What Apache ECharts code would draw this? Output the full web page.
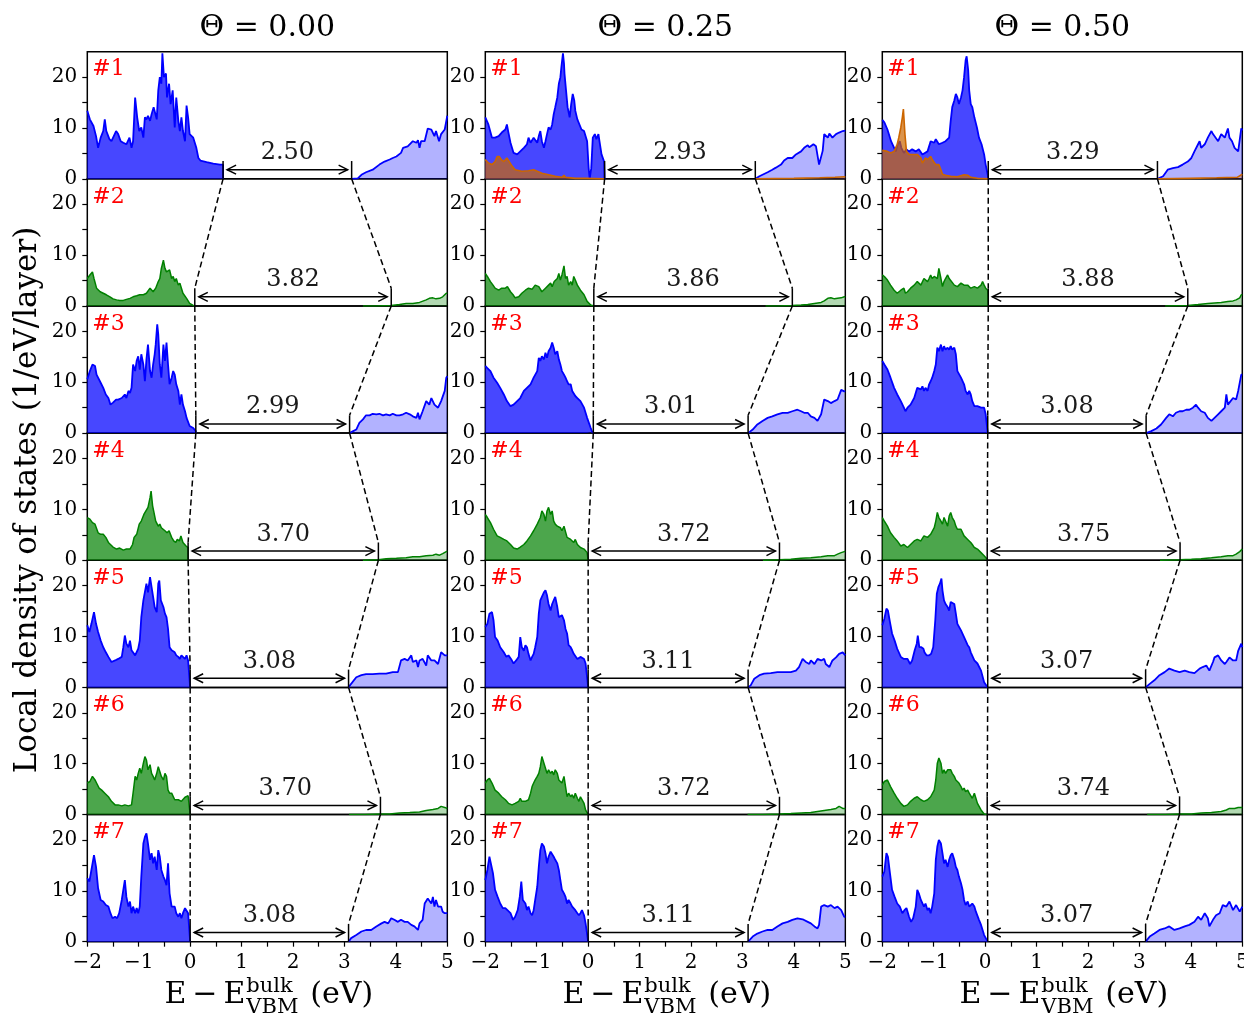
<!DOCTYPE html>
<html>
<head>
<meta charset="utf-8">
<title>Layer-resolved density of states</title>
<script src="https://cdn.jsdelivr.net/npm/echarts@6.0.0/dist/echarts.min.js"></script>
<style>
html,body{margin:0;padding:0;background:#fff}
#chart{width:1244px;height:1013px}
</style>
</head>
<body>
<div id="chart"></div>
<script>
// ---- labels and ticks ----
const thetaLabels = ['0.00', '0.25', '0.50'];
const layerLabels = ['#1', '#2', '#3', '#4', '#5', '#6', '#7'];
const xTicks = [-2, -1.5, -1, -0.5, 0, 0.5, 1, 1.5, 2, 2.5, 3, 3.5, 4, 4.5, 5];
const xTickLabels = [-2, -1, 0, 1, 2, 3, 4, 5];
const yTicks = [0, 5, 10, 15, 20];
const yTickLabels = [0, 10, 20];

// ---- valence band maximum per layer (eV) and labelled gap (eV) ----
const vbm00 = [0.64, 0.09, 0.11, -0.04, 0.00, 0.00, 0.00];
const gap00 = [2.50, 3.82, 2.99, 3.70, 3.08, 3.70, 3.08];
const vbm25 = [0.32, 0.11, 0.10, 0.00, 0.00, 0.00, 0.00];
const gap25 = [2.93, 3.86, 3.01, 3.72, 3.11, 3.72, 3.11];
const vbm50 = [0.06, 0.06, 0.05, 0.04, 0.05, 0.04, 0.05];
const gap50 = [3.29, 3.88, 3.08, 3.75, 3.07, 3.74, 3.07];

// ---- DOS curves, [energy (eV), states (1/eV/layer)] ----
// Theta = 0.00
const vb00_1 = [[-2.00,13.4],[-1.95,11.7],[-1.88,10.4],[-1.83,8.4],[-1.79,6.1],[-1.74,8.1],[-1.69,9.4],[-1.66,11.7],[-1.63,9.4],[-1.57,7.8],[-1.53,7.4],[-1.50,7.4],[-1.44,9.4],[-1.40,8.8],[-1.35,7.4],[-1.30,7.1],[-1.24,6.8],[-1.18,8.1],[-1.14,6.1],[-1.11,7.4],[-1.07,16.0],[-1.03,12.1],[-0.99,9.4],[-0.95,10.1],[-0.91,8.1],[-0.88,12.1],[-0.85,11.7],[-0.82,12.4],[-0.78,11.4],[-0.75,12.7],[-0.71,14.1],[-0.65,11.7],[-0.62,17.4],[-0.59,20.0],[-0.56,18.7],[-0.54,24.7],[-0.51,20.0],[-0.47,20.7],[-0.45,16.0],[-0.41,18.7],[-0.38,14.7],[-0.34,17.4],[-0.30,10.1],[-0.27,16.0],[-0.23,11.4],[-0.20,9.4],[-0.17,12.1],[-0.14,9.4],[-0.10,7.4],[-0.07,14.4],[-0.04,12.1],[-0.01,8.8],[0.06,8.1],[0.12,6.1],[0.16,4.1],[0.20,3.6],[0.32,3.3],[0.45,3.0],[0.58,2.8],[0.64,2.8]];
const cb00_1 = [[3.14,0],[3.26,0.1],[3.33,0.8],[3.42,1.3],[3.55,1.8],[3.68,2.8],[3.78,3.4],[3.88,3.8],[3.94,4.1],[4.01,4.4],[4.10,5.1],[4.14,6.1],[4.23,6.4],[4.33,7.4],[4.40,7.1],[4.43,7.6],[4.46,6.1],[4.49,7.4],[4.56,7.4],[4.62,9.9],[4.69,9.7],[4.75,8.4],[4.78,9.4],[4.84,7.4],[4.88,8.8],[4.95,9.7],[5.00,12.4]];
const vb00_2 = [[-2.00,5.4],[-1.95,6.1],[-1.90,6.7],[-1.87,5.4],[-1.82,3.5],[-1.75,2.8],[-1.69,2.5],[-1.63,2.2],[-1.56,1.8],[-1.50,1.4],[-1.43,1.2],[-1.37,1.1],[-1.30,1.1],[-1.24,1.3],[-1.17,1.5],[-1.11,1.8],[-1.04,2.0],[-0.98,2.2],[-0.91,2.2],[-0.85,2.5],[-0.78,3.5],[-0.75,3.8],[-0.72,2.8],[-0.67,3.5],[-0.62,4.8],[-0.59,5.4],[-0.56,7.4],[-0.52,9.0],[-0.49,7.4],[-0.46,6.7],[-0.43,6.4],[-0.40,7.1],[-0.36,5.4],[-0.33,5.8],[-0.30,4.8],[-0.27,5.4],[-0.23,4.1],[-0.20,4.5],[-0.17,3.5],[-0.14,2.5],[-0.07,1.5],[-0.01,0.5],[0.06,0.1],[0.09,0]];
const cb00_2 = [[3.36,0],[3.60,0.02],[3.91,0.1],[4.07,0.3],[4.20,0.5],[4.33,0.5],[4.46,0.7],[4.59,1.2],[4.65,1.5],[4.72,1.6],[4.78,1.4],[4.85,1.5],[4.91,1.8],[4.98,2.5],[5.00,2.5]];
const vb00_3 = [[-2.00,10.6],[-1.95,12.2],[-1.90,13.5],[-1.85,13.2],[-1.82,11.5],[-1.79,10.9],[-1.74,9.9],[-1.69,8.9],[-1.64,7.6],[-1.59,6.9],[-1.55,5.6],[-1.50,6.0],[-1.44,6.6],[-1.40,6.6],[-1.33,6.9],[-1.27,7.6],[-1.24,6.9],[-1.20,8.3],[-1.17,7.9],[-1.14,8.9],[-1.11,13.5],[-1.07,12.2],[-1.04,14.2],[-1.01,15.1],[-0.98,12.5],[-0.95,15.5],[-0.91,13.5],[-0.88,10.2],[-0.85,14.5],[-0.82,17.4],[-0.78,12.2],[-0.75,10.9],[-0.72,13.5],[-0.69,15.5],[-0.67,17.4],[-0.64,21.4],[-0.62,19.4],[-0.59,13.5],[-0.56,10.9],[-0.52,17.4],[-0.49,14.2],[-0.46,17.8],[-0.43,13.5],[-0.40,9.6],[-0.36,10.9],[-0.33,12.2],[-0.30,11.5],[-0.27,9.6],[-0.23,8.3],[-0.20,5.6],[-0.17,7.6],[-0.14,5.6],[-0.10,4.3],[-0.07,3.0],[-0.01,1.4],[0.06,1.0],[0.11,0.4]];
const cb00_3 = [[3.10,0],[3.17,0.4],[3.23,0.7],[3.29,2.0],[3.36,2.7],[3.42,3.5],[3.49,3.5],[3.55,3.8],[3.62,3.7],[3.68,3.8],[3.75,3.5],[3.81,3.7],[3.88,3.5],[3.94,3.8],[4.01,3.5],[4.07,3.5],[4.14,3.7],[4.20,4.0],[4.27,3.7],[4.33,3.3],[4.40,3.0],[4.43,4.0],[4.46,2.7],[4.52,4.3],[4.59,6.3],[4.65,5.6],[4.69,6.9],[4.75,5.6],[4.82,5.0],[4.88,6.3],[4.95,8.3],[4.98,10.9],[5.00,11.2]];
const vb00_4 = [[-2.00,8.4],[-1.95,8.1],[-1.90,7.4],[-1.85,7.1],[-1.79,5.4],[-1.74,5.1],[-1.69,5.1],[-1.64,4.5],[-1.59,3.5],[-1.55,3.1],[-1.50,2.6],[-1.43,2.2],[-1.37,2.4],[-1.30,2.0],[-1.24,2.2],[-1.17,2.2],[-1.12,3.1],[-1.09,4.5],[-1.04,5.1],[-0.99,7.1],[-0.95,7.7],[-0.90,9.0],[-0.86,9.7],[-0.82,10.4],[-0.78,12.3],[-0.76,13.6],[-0.73,10.7],[-0.71,9.7],[-0.67,7.7],[-0.62,6.7],[-0.59,7.1],[-0.56,6.4],[-0.49,5.8],[-0.45,5.4],[-0.41,5.8],[-0.36,4.5],[-0.32,3.8],[-0.28,3.5],[-0.25,4.1],[-0.21,3.8],[-0.18,4.8],[-0.14,3.5],[-0.08,2.8],[-0.04,2.5]];
const cb00_4 = [[3.36,0],[3.66,0.1],[3.81,0.3],[4.01,0.4],[4.20,0.5],[4.33,0.7],[4.46,0.7],[4.59,0.9],[4.72,1.0],[4.78,1.2],[4.85,1.0],[4.91,1.3],[4.98,1.7],[5.00,1.7]];
const vb00_5 = [[-2.00,12.2],[-1.96,10.9],[-1.92,12.5],[-1.87,14.8],[-1.83,12.5],[-1.79,10.9],[-1.74,9.2],[-1.69,7.9],[-1.64,6.9],[-1.59,6.0],[-1.53,5.0],[-1.46,5.3],[-1.40,5.6],[-1.33,6.0],[-1.30,7.9],[-1.27,10.2],[-1.24,8.6],[-1.20,7.9],[-1.17,9.2],[-1.14,7.3],[-1.11,7.6],[-1.07,6.3],[-1.04,6.3],[-1.01,7.6],[-0.98,9.2],[-0.95,13.8],[-0.91,17.1],[-0.88,17.4],[-0.85,20.4],[-0.82,18.7],[-0.78,21.7],[-0.75,19.7],[-0.72,17.8],[-0.69,15.8],[-0.65,14.8],[-0.62,20.4],[-0.60,21.0],[-0.57,17.1],[-0.52,15.8],[-0.49,14.5],[-0.46,13.8],[-0.43,11.5],[-0.40,7.9],[-0.36,7.3],[-0.33,7.6],[-0.30,6.9],[-0.27,6.3],[-0.23,6.0],[-0.20,5.6],[-0.17,6.3],[-0.14,6.0],[-0.10,5.6],[-0.07,6.3],[-0.04,5.3]];
const cb00_5 = [[3.08,0],[3.13,0.7],[3.23,2.0],[3.33,2.4],[3.42,2.6],[3.55,2.6],[3.68,2.7],[3.81,2.7],[3.94,3.0],[4.04,3.0],[4.10,5.3],[4.17,5.6],[4.23,5.3],[4.30,6.3],[4.33,5.0],[4.40,5.3],[4.43,4.0],[4.46,5.3],[4.52,5.6],[4.59,4.3],[4.62,6.3],[4.65,6.6],[4.69,5.3],[4.75,5.3],[4.82,4.6],[4.88,6.9],[4.91,7.2],[4.95,6.3],[5.00,6.3]];
const vb00_6 = [[-2.00,6.2],[-1.95,6.5],[-1.90,7.5],[-1.85,6.8],[-1.82,6.2],[-1.77,5.2],[-1.72,4.8],[-1.66,4.2],[-1.59,3.5],[-1.53,2.6],[-1.46,1.9],[-1.40,1.9],[-1.33,1.7],[-1.27,1.9],[-1.20,1.7],[-1.14,1.9],[-1.11,4.2],[-1.07,7.5],[-1.04,6.8],[-1.01,8.1],[-0.98,9.1],[-0.95,8.1],[-0.91,10.1],[-0.88,11.4],[-0.85,10.7],[-0.82,8.8],[-0.78,9.8],[-0.75,8.1],[-0.72,7.5],[-0.69,6.8],[-0.65,8.1],[-0.62,9.4],[-0.59,9.1],[-0.56,7.5],[-0.52,6.8],[-0.49,8.1],[-0.46,7.5],[-0.43,4.8],[-0.40,4.2],[-0.36,4.2],[-0.33,3.9],[-0.30,2.9],[-0.27,2.6],[-0.23,2.9],[-0.20,2.6],[-0.17,2.6],[-0.14,2.9],[-0.10,3.4],[-0.07,3.5],[-0.04,3.7]];
const cb00_6 = [[3.09,0],[3.40,0.02],[3.70,0.1],[3.88,0.1],[4.07,0.3],[4.27,0.4],[4.46,0.5],[4.59,0.8],[4.72,1.0],[4.82,1.2],[4.88,1.6],[4.95,1.4],[5.00,1.2]];
const vb00_7 = [[-2.00,12.5],[-1.96,11.8],[-1.92,14.1],[-1.87,17.0],[-1.83,14.7],[-1.79,10.5],[-1.74,8.2],[-1.69,7.9],[-1.64,7.2],[-1.59,6.9],[-1.55,5.6],[-1.51,4.6],[-1.46,4.9],[-1.42,4.6],[-1.38,5.6],[-1.33,8.2],[-1.30,10.2],[-1.27,12.1],[-1.24,8.8],[-1.20,6.9],[-1.17,7.9],[-1.14,5.6],[-1.11,6.9],[-1.07,5.6],[-1.04,6.6],[-1.01,5.6],[-0.98,6.9],[-0.95,12.8],[-0.91,19.3],[-0.88,20.6],[-0.85,21.3],[-0.82,19.3],[-0.78,16.1],[-0.75,17.4],[-0.72,15.4],[-0.69,16.7],[-0.65,14.1],[-0.62,18.0],[-0.59,16.7],[-0.56,14.1],[-0.52,12.8],[-0.49,12.1],[-0.46,11.1],[-0.43,15.4],[-0.40,9.5],[-0.36,6.9],[-0.33,6.6],[-0.30,6.9],[-0.27,5.6],[-0.23,4.9],[-0.20,5.6],[-0.17,4.6],[-0.14,5.6],[-0.10,6.6],[-0.07,6.9],[-0.04,5.6]];
const cb00_7 = [[3.08,0],[3.13,0.7],[3.23,1.3],[3.33,2.0],[3.42,2.3],[3.52,2.3],[3.62,3.0],[3.72,3.6],[3.78,3.9],[3.85,3.6],[3.91,4.6],[3.97,4.3],[4.04,3.9],[4.10,4.3],[4.17,3.9],[4.23,3.9],[4.30,3.3],[4.36,3.0],[4.43,2.3],[4.46,3.6],[4.52,4.3],[4.56,7.5],[4.62,8.5],[4.69,7.5],[4.72,8.8],[4.75,6.9],[4.78,8.2],[4.82,6.9],[4.88,6.9],[4.91,5.9],[4.95,5.6],[5.00,5.6]];

// Theta = 0.25
const vb25_1 = [[-2.00,12.1],[-1.94,10.7],[-1.87,8.1],[-1.81,8.1],[-1.74,8.4],[-1.68,9.1],[-1.61,9.7],[-1.58,10.7],[-1.55,9.1],[-1.51,7.1],[-1.45,5.1],[-1.38,4.8],[-1.32,5.4],[-1.25,6.1],[-1.19,6.8],[-1.16,8.1],[-1.12,7.1],[-1.09,6.8],[-1.06,8.1],[-1.03,8.4],[-0.99,7.1],[-0.96,8.4],[-0.93,9.4],[-0.90,7.4],[-0.86,6.1],[-0.83,7.4],[-0.80,8.8],[-0.77,10.1],[-0.73,9.7],[-0.70,10.7],[-0.67,12.7],[-0.64,14.1],[-0.60,16.0],[-0.57,18.7],[-0.54,20.0],[-0.52,22.0],[-0.49,24.7],[-0.47,22.7],[-0.46,20.7],[-0.43,17.4],[-0.40,14.1],[-0.36,12.1],[-0.33,14.7],[-0.30,16.7],[-0.27,15.4],[-0.25,13.4],[-0.21,11.7],[-0.18,11.4],[-0.13,9.7],[-0.08,9.4],[-0.05,9.1],[-0.02,7.4],[0.01,2.1],[0.03,0],[0.06,2.1],[0.09,8.1],[0.13,8.8],[0.16,7.8],[0.20,8.8],[0.22,7.4],[0.26,4.8],[0.31,3.4]];
const cb25_1 = [[3.25,0],[3.33,0.5],[3.39,0.8],[3.49,1.3],[3.58,1.8],[3.65,2.2],[3.75,2.8],[3.81,3.6],[3.88,4.1],[3.97,4.1],[4.04,4.8],[4.14,5.4],[4.20,6.1],[4.27,6.6],[4.30,6.2],[4.33,6.1],[4.38,6.8],[4.43,6.4],[4.49,2.8],[4.56,5.5],[4.59,8.8],[4.66,8.1],[4.69,8.9],[4.75,8.1],[4.82,8.8],[4.88,9.1],[4.95,9.4],[5.00,9.5]];
const vb25_2 = [[-2.00,6.4],[-1.96,5.8],[-1.90,4.8],[-1.85,4.1],[-1.81,3.5],[-1.74,3.1],[-1.68,3.5],[-1.61,3.5],[-1.57,3.8],[-1.51,2.8],[-1.46,2.2],[-1.42,1.6],[-1.35,1.8],[-1.29,2.5],[-1.22,3.1],[-1.16,3.5],[-1.09,3.3],[-1.03,4.1],[-0.96,3.8],[-0.93,3.5],[-0.90,2.8],[-0.83,3.5],[-0.77,4.1],[-0.73,4.5],[-0.70,3.8],[-0.66,4.8],[-0.60,5.4],[-0.57,6.4],[-0.54,5.1],[-0.51,6.1],[-0.47,7.9],[-0.44,5.4],[-0.41,5.8],[-0.38,4.1],[-0.34,4.8],[-0.31,4.1],[-0.28,5.8],[-0.25,5.1],[-0.21,4.1],[-0.15,3.1],[-0.08,2.2],[-0.02,0.9],[0.05,0.2],[0.11,0]];
const cb25_2 = [[3.45,0],[3.70,0.02],[3.97,0.1],[4.14,0.2],[4.27,0.3],[4.40,0.5],[4.53,0.7],[4.59,1.0],[4.66,1.5],[4.72,1.6],[4.79,1.4],[4.85,1.5],[4.92,1.6],[4.98,1.8],[5.00,1.8]];
const vb25_3 = [[-2.00,13.2],[-1.96,12.8],[-1.90,12.2],[-1.84,10.9],[-1.77,9.9],[-1.71,8.9],[-1.64,7.6],[-1.58,6.3],[-1.51,5.3],[-1.45,5.6],[-1.38,6.3],[-1.32,6.9],[-1.25,8.3],[-1.19,8.9],[-1.12,9.6],[-1.06,10.9],[-0.99,12.2],[-0.96,14.8],[-0.93,14.2],[-0.90,15.1],[-0.86,14.5],[-0.83,15.8],[-0.80,14.8],[-0.77,16.1],[-0.73,16.8],[-0.70,17.8],[-0.67,16.8],[-0.64,15.5],[-0.60,16.1],[-0.57,14.5],[-0.54,13.5],[-0.51,12.2],[-0.47,11.5],[-0.44,10.9],[-0.41,10.2],[-0.38,9.6],[-0.34,9.6],[-0.31,8.3],[-0.28,8.3],[-0.25,7.3],[-0.21,6.9],[-0.15,6.3],[-0.08,5.0],[-0.02,3.0],[0.05,1.0],[0.08,0.2]];
const cb25_3 = [[3.11,0],[3.20,0.7],[3.29,1.7],[3.39,2.4],[3.49,3.0],[3.58,3.3],[3.68,3.7],[3.78,4.0],[3.88,4.0],[3.97,4.3],[4.07,4.6],[4.14,4.3],[4.20,4.0],[4.27,4.0],[4.33,3.3],[4.40,3.0],[4.46,2.4],[4.53,3.7],[4.59,6.6],[4.66,6.3],[4.72,5.9],[4.79,6.3],[4.85,6.6],[4.92,8.5],[4.98,8.2],[5.00,8.2]];
const vb25_4 = [[-2.00,9.0],[-1.96,8.4],[-1.90,7.4],[-1.84,6.1],[-1.77,4.8],[-1.71,4.5],[-1.64,4.1],[-1.58,3.8],[-1.51,3.1],[-1.45,2.4],[-1.38,2.2],[-1.32,2.6],[-1.25,3.1],[-1.19,3.8],[-1.12,4.8],[-1.06,5.8],[-0.99,7.1],[-0.93,8.4],[-0.90,9.7],[-0.86,9.0],[-0.83,7.7],[-0.80,9.7],[-0.77,10.4],[-0.73,9.0],[-0.70,9.7],[-0.67,7.7],[-0.64,7.1],[-0.60,6.7],[-0.54,6.4],[-0.51,5.8],[-0.47,6.7],[-0.44,6.4],[-0.41,4.5],[-0.34,4.1],[-0.28,3.5],[-0.25,4.1],[-0.21,3.1],[-0.15,2.5],[-0.08,2.2],[-0.02,1.5]];
const cb25_4 = [[3.40,0],[3.72,0.1],[3.94,0.2],[4.14,0.4],[4.33,0.5],[4.53,0.7],[4.66,0.9],[4.79,0.9],[4.85,1.2],[4.92,1.5],[4.98,1.7],[5.00,1.7]];
const vb25_5 = [[-2.00,11.9],[-1.96,12.5],[-1.92,14.5],[-1.87,14.8],[-1.84,13.2],[-1.81,9.9],[-1.76,9.2],[-1.71,7.9],[-1.64,6.9],[-1.59,6.0],[-1.55,6.3],[-1.50,5.6],[-1.45,4.7],[-1.40,5.3],[-1.35,6.0],[-1.32,9.9],[-1.29,7.9],[-1.25,7.2],[-1.22,8.3],[-1.19,7.9],[-1.16,6.6],[-1.12,5.3],[-1.09,6.0],[-1.06,6.6],[-1.03,7.9],[-0.99,9.9],[-0.96,14.5],[-0.93,17.1],[-0.90,17.8],[-0.86,18.7],[-0.83,19.1],[-0.80,18.1],[-0.77,16.4],[-0.73,15.1],[-0.70,16.4],[-0.67,17.1],[-0.64,17.8],[-0.60,15.8],[-0.57,13.8],[-0.54,13.5],[-0.51,14.2],[-0.47,13.2],[-0.44,11.5],[-0.41,10.6],[-0.38,8.3],[-0.34,7.9],[-0.31,7.3],[-0.28,6.6],[-0.25,6.3],[-0.21,5.6],[-0.18,5.3],[-0.15,6.0],[-0.12,6.3],[-0.08,5.6],[-0.05,4.7]];
const cb25_5 = [[3.11,0],[3.16,0.4],[3.23,1.7],[3.33,2.4],[3.42,2.7],[3.55,2.8],[3.68,3.0],[3.81,3.0],[3.94,3.0],[4.04,3.3],[4.10,4.0],[4.17,5.6],[4.23,5.0],[4.30,4.6],[4.33,5.3],[4.40,4.6],[4.46,5.6],[4.53,5.3],[4.59,5.6],[4.62,4.6],[4.69,4.0],[4.75,5.3],[4.82,5.9],[4.88,6.6],[4.95,6.9],[5.00,6.3]];
const vb25_6 = [[-2.00,6.2],[-1.96,6.8],[-1.92,7.1],[-1.87,6.2],[-1.81,4.8],[-1.74,4.2],[-1.68,3.5],[-1.61,2.9],[-1.55,2.2],[-1.48,1.9],[-1.42,2.2],[-1.35,2.6],[-1.32,3.2],[-1.29,2.6],[-1.22,2.6],[-1.16,2.9],[-1.12,4.2],[-1.09,5.5],[-1.06,6.2],[-1.03,6.8],[-0.99,7.5],[-0.96,8.1],[-0.93,9.4],[-0.90,11.4],[-0.86,10.1],[-0.83,9.1],[-0.80,8.1],[-0.77,8.8],[-0.73,8.1],[-0.70,8.5],[-0.67,7.8],[-0.64,8.8],[-0.60,8.1],[-0.57,6.8],[-0.54,6.5],[-0.51,6.2],[-0.47,7.5],[-0.44,5.5],[-0.41,3.5],[-0.38,4.2],[-0.34,3.5],[-0.31,3.9],[-0.28,3.2],[-0.25,4.2],[-0.21,3.2],[-0.18,2.6],[-0.15,3.5],[-0.12,3.2],[-0.08,2.2],[-0.05,0.9]];
const cb25_6 = [[3.10,0],[3.40,0.02],[3.72,0.1],[3.94,0.2],[4.14,0.3],[4.33,0.4],[4.46,0.6],[4.59,0.8],[4.72,1.0],[4.82,1.2],[4.88,1.6],[4.95,1.2],[5.00,1.2]];
const vb25_7 = [[-2.00,12.1],[-1.96,14.1],[-1.92,16.7],[-1.89,16.4],[-1.85,13.4],[-1.81,10.2],[-1.76,8.8],[-1.71,7.5],[-1.66,6.6],[-1.61,6.6],[-1.57,6.2],[-1.51,5.6],[-1.46,4.3],[-1.42,4.9],[-1.37,6.2],[-1.33,8.8],[-1.30,11.8],[-1.27,8.2],[-1.22,7.5],[-1.19,6.2],[-1.16,6.9],[-1.12,5.6],[-1.09,5.2],[-1.06,6.2],[-1.03,8.2],[-0.99,10.8],[-0.96,14.7],[-0.93,18.0],[-0.90,19.3],[-0.86,18.7],[-0.83,17.4],[-0.80,15.4],[-0.77,16.7],[-0.73,17.7],[-0.70,17.4],[-0.67,16.7],[-0.64,16.1],[-0.60,15.4],[-0.57,14.1],[-0.54,12.1],[-0.51,10.2],[-0.47,9.5],[-0.44,8.8],[-0.41,7.5],[-0.38,8.2],[-0.34,7.5],[-0.31,6.9],[-0.28,6.6],[-0.25,6.2],[-0.21,5.6],[-0.18,5.2],[-0.15,5.6],[-0.12,6.2],[-0.08,5.2],[-0.05,3.6]];
const cb25_7 = [[3.11,0],[3.20,1.0],[3.29,1.6],[3.39,2.0],[3.49,2.3],[3.58,2.3],[3.68,3.0],[3.78,3.6],[3.88,3.9],[3.97,4.3],[4.07,4.6],[4.17,4.4],[4.27,3.9],[4.33,3.6],[4.40,3.0],[4.46,2.6],[4.49,3.3],[4.53,6.9],[4.59,7.2],[4.66,6.9],[4.72,7.2],[4.79,6.6],[4.85,6.9],[4.92,6.2],[4.98,4.9],[5.00,4.9]];
// adsorbate contribution on the surface layer
const ads25_vb = [[-2.00,3.8],[-1.94,3.1],[-1.87,2.8],[-1.81,3.4],[-1.77,4.4],[-1.73,4.4],[-1.69,3.8],[-1.64,3.4],[-1.58,4.1],[-1.55,3.8],[-1.48,2.5],[-1.42,1.8],[-1.29,1.5],[-1.16,1.6],[-1.06,1.8],[-0.99,1.5],[-0.90,1.1],[-0.77,0.8],[-0.64,0.5],[-0.51,0.3],[-0.47,0.7],[-0.44,0.3],[-0.25,0.1],[-0.05,0.1],[0.31,0.0]];
const ads25_cb = [[3.25,0],[4.00,0.1],[4.50,0.2],[4.80,0.3],[5.00,0.4]];

// Theta = 0.50
const vb50_1 = [[-2.00,11.6],[-1.96,11.1],[-1.90,9.7],[-1.87,9.4],[-1.83,7.4],[-1.77,6.1],[-1.74,5.4],[-1.70,6.8],[-1.66,7.4],[-1.63,6.1],[-1.58,5.1],[-1.53,5.8],[-1.48,5.4],[-1.42,5.8],[-1.35,5.4],[-1.29,5.8],[-1.22,4.8],[-1.19,5.1],[-1.12,5.4],[-1.06,7.4],[-0.99,7.1],[-0.96,7.8],[-0.90,6.8],[-0.83,7.1],[-0.77,7.4],[-0.70,8.1],[-0.67,11.4],[-0.64,14.1],[-0.60,15.4],[-0.57,16.7],[-0.54,16.0],[-0.51,14.7],[-0.47,16.0],[-0.44,17.4],[-0.41,20.0],[-0.38,23.3],[-0.36,24.1],[-0.33,21.4],[-0.31,17.4],[-0.28,14.7],[-0.25,14.1],[-0.21,12.1],[-0.16,10.1],[-0.12,8.1],[-0.07,6.8],[-0.02,4.8],[0.01,2.8],[0.05,0.8],[0.06,0]];
const cb50_1 = [[3.35,0],[3.36,0.1],[3.46,0.5],[3.55,1.8],[3.65,2.1],[3.75,2.3],[3.84,2.8],[3.94,3.4],[4.01,4.1],[4.07,5.4],[4.14,6.8],[4.17,7.4],[4.20,6.1],[4.27,6.8],[4.33,8.1],[4.40,9.4],[4.43,8.8],[4.46,9.1],[4.53,7.4],[4.59,8.8],[4.66,8.1],[4.72,9.9],[4.75,8.1],[4.80,7.4],[4.85,6.1],[4.92,5.4],[4.98,9.9],[5.00,9.5]];
const vb50_2 = [[-2.00,6.1],[-1.96,5.8],[-1.90,5.1],[-1.84,4.1],[-1.77,3.1],[-1.71,2.5],[-1.64,3.1],[-1.58,3.5],[-1.55,2.5],[-1.51,2.8],[-1.45,3.5],[-1.38,4.1],[-1.35,3.8],[-1.32,4.8],[-1.29,5.1],[-1.25,4.1],[-1.22,4.1],[-1.19,5.4],[-1.16,5.1],[-1.12,4.8],[-1.09,5.4],[-1.06,6.1],[-1.03,5.4],[-0.99,5.8],[-0.96,6.1],[-0.93,5.4],[-0.90,7.4],[-0.86,5.4],[-0.83,3.8],[-0.80,4.8],[-0.77,5.4],[-0.73,6.1],[-0.70,5.4],[-0.67,5.1],[-0.60,4.1],[-0.54,3.8],[-0.47,4.5],[-0.41,4.1],[-0.34,4.1],[-0.28,3.5],[-0.21,3.8],[-0.15,3.5],[-0.08,4.1],[-0.05,4.8],[-0.02,4.1],[0.01,3.5],[0.05,3.1]];
const cb50_2 = [[3.50,0],[3.94,0.1],[4.14,0.3],[4.33,0.5],[4.46,0.6],[4.59,0.7],[4.72,0.9],[4.82,1.0],[4.88,1.2],[4.95,1.6],[4.98,2.2],[5.00,2.2]];
const vb50_3 = [[-2.00,14.2],[-1.96,13.5],[-1.90,12.5],[-1.84,10.9],[-1.77,8.9],[-1.71,7.6],[-1.64,6.3],[-1.58,5.0],[-1.55,4.3],[-1.51,5.0],[-1.45,5.6],[-1.38,6.9],[-1.32,8.9],[-1.25,8.6],[-1.22,9.2],[-1.19,8.3],[-1.16,8.9],[-1.12,8.3],[-1.09,9.6],[-1.06,10.2],[-1.03,10.9],[-0.99,12.2],[-0.96,13.5],[-0.93,16.8],[-0.90,16.1],[-0.86,17.4],[-0.83,16.1],[-0.80,17.1],[-0.77,16.4],[-0.73,16.8],[-0.70,16.4],[-0.67,17.1],[-0.64,16.4],[-0.60,16.8],[-0.57,15.5],[-0.54,12.2],[-0.51,12.2],[-0.47,10.9],[-0.44,11.2],[-0.41,9.6],[-0.38,8.3],[-0.34,7.6],[-0.31,8.3],[-0.28,7.6],[-0.25,6.3],[-0.21,5.3],[-0.15,5.3],[-0.08,5.0],[-0.02,5.0],[0.01,3.7],[0.05,0]];
const cb50_3 = [[3.13,0],[3.23,0.4],[3.33,0.9],[3.42,1.7],[3.52,3.0],[3.58,3.7],[3.65,3.3],[3.71,4.0],[3.78,4.3],[3.84,4.3],[3.91,4.6],[3.97,4.6],[4.04,5.0],[4.10,5.6],[4.14,5.0],[4.20,4.3],[4.27,4.0],[4.33,3.0],[4.40,2.4],[4.46,3.0],[4.53,3.7],[4.59,4.3],[4.66,5.0],[4.69,7.6],[4.72,5.6],[4.75,5.9],[4.82,6.9],[4.88,6.6],[4.92,8.3],[4.98,11.5],[5.00,11.5]];
const vb50_4 = [[-2.00,8.4],[-1.96,7.7],[-1.90,6.7],[-1.84,5.4],[-1.77,4.5],[-1.71,3.8],[-1.64,2.8],[-1.58,3.1],[-1.51,2.5],[-1.45,3.1],[-1.38,3.8],[-1.32,4.1],[-1.25,3.8],[-1.19,4.8],[-1.12,4.5],[-1.06,5.1],[-0.99,6.4],[-0.96,7.7],[-0.93,9.4],[-0.90,8.4],[-0.86,7.7],[-0.83,7.1],[-0.80,8.4],[-0.77,7.7],[-0.73,6.7],[-0.70,8.7],[-0.67,9.4],[-0.64,8.4],[-0.60,7.7],[-0.57,6.7],[-0.54,6.1],[-0.51,5.8],[-0.47,6.1],[-0.44,5.8],[-0.41,4.8],[-0.38,5.1],[-0.34,4.1],[-0.31,3.8],[-0.28,3.5],[-0.25,3.1],[-0.21,2.5],[-0.15,2.2],[-0.08,1.5],[-0.02,0.9],[0.04,0.2]];
const cb50_4 = [[3.40,0],[3.79,0.1],[4.01,0.2],[4.20,0.3],[4.40,0.5],[4.59,0.7],[4.72,0.9],[4.82,0.9],[4.88,1.2],[4.95,1.7],[5.00,2.2]];
const vb50_5 = [[-2.00,12.2],[-1.96,13.5],[-1.92,15.5],[-1.89,15.1],[-1.85,12.8],[-1.81,10.6],[-1.76,9.2],[-1.71,7.6],[-1.64,6.0],[-1.58,5.6],[-1.51,5.6],[-1.46,4.6],[-1.42,5.3],[-1.37,7.3],[-1.33,8.6],[-1.31,10.2],[-1.28,7.9],[-1.24,7.9],[-1.20,7.6],[-1.18,6.9],[-1.14,6.3],[-1.09,6.3],[-1.05,6.6],[-1.01,7.9],[-0.97,13.2],[-0.94,18.4],[-0.91,19.7],[-0.88,20.4],[-0.85,21.4],[-0.83,19.1],[-0.80,17.1],[-0.77,16.4],[-0.73,15.8],[-0.70,15.1],[-0.67,16.8],[-0.64,17.1],[-0.60,16.4],[-0.57,14.5],[-0.54,12.5],[-0.51,12.2],[-0.47,11.2],[-0.44,11.5],[-0.41,9.9],[-0.38,9.6],[-0.34,8.3],[-0.31,7.9],[-0.28,6.9],[-0.25,6.6],[-0.21,5.3],[-0.18,5.3],[-0.15,4.7],[-0.08,3.3],[-0.02,1.0],[0.05,0]];
const cb50_5 = [[3.12,0],[3.20,0.7],[3.29,1.4],[3.39,2.4],[3.49,3.0],[3.58,3.7],[3.68,3.3],[3.78,3.0],[3.88,3.3],[3.97,3.0],[4.07,2.8],[4.17,3.7],[4.23,4.0],[4.30,4.3],[4.36,3.3],[4.43,5.0],[4.46,5.9],[4.53,6.3],[4.59,5.3],[4.66,4.6],[4.69,5.0],[4.75,5.9],[4.82,5.3],[4.88,5.3],[4.92,7.2],[4.98,8.6],[5.00,7.9]];
const vb50_6 = [[-2.00,5.8],[-1.96,6.5],[-1.90,6.8],[-1.84,5.5],[-1.77,4.2],[-1.71,3.2],[-1.64,2.2],[-1.58,1.6],[-1.51,1.9],[-1.45,2.6],[-1.38,3.2],[-1.32,3.5],[-1.25,2.9],[-1.19,2.6],[-1.12,2.9],[-1.06,3.5],[-0.99,4.8],[-0.96,6.8],[-0.93,10.1],[-0.90,11.1],[-0.86,10.1],[-0.83,8.1],[-0.80,8.8],[-0.77,8.1],[-0.73,8.8],[-0.70,8.5],[-0.67,8.8],[-0.64,8.1],[-0.60,7.5],[-0.57,6.8],[-0.54,6.5],[-0.51,6.2],[-0.47,5.5],[-0.44,4.8],[-0.41,5.2],[-0.38,4.5],[-0.34,4.8],[-0.31,4.2],[-0.28,3.9],[-0.25,3.2],[-0.21,4.2],[-0.18,3.2],[-0.15,2.2],[-0.08,0.9],[-0.02,0.1],[0.04,0]];
const cb50_6 = [[3.15,0],[3.50,0.02],[3.78,0.1],[4.01,0.1],[4.20,0.3],[4.40,0.4],[4.59,0.6],[4.69,0.9],[4.75,1.2],[4.85,1.2],[4.92,1.4],[5.00,1.4]];
const vb50_7 = [[-2.00,12.8],[-1.96,13.8],[-1.92,17.4],[-1.89,16.7],[-1.85,13.4],[-1.81,10.2],[-1.76,8.8],[-1.71,7.5],[-1.66,6.9],[-1.61,5.6],[-1.57,6.2],[-1.53,6.6],[-1.48,4.9],[-1.44,3.9],[-1.40,4.6],[-1.35,6.9],[-1.32,10.2],[-1.29,9.5],[-1.25,8.2],[-1.22,8.5],[-1.19,6.9],[-1.16,7.5],[-1.12,6.2],[-1.09,6.6],[-1.06,5.6],[-1.03,6.9],[-0.99,9.5],[-0.96,16.1],[-0.93,18.7],[-0.90,20.0],[-0.86,19.3],[-0.83,17.4],[-0.80,15.4],[-0.77,16.1],[-0.73,14.7],[-0.70,16.1],[-0.67,17.0],[-0.64,17.4],[-0.60,16.1],[-0.57,14.7],[-0.54,14.1],[-0.51,12.8],[-0.47,11.5],[-0.44,10.2],[-0.41,8.2],[-0.38,7.2],[-0.34,7.9],[-0.31,6.9],[-0.28,6.6],[-0.25,7.5],[-0.21,6.9],[-0.18,5.9],[-0.15,5.6],[-0.12,4.3],[-0.08,3.3],[-0.02,1.3],[0.05,0]];
const cb50_7 = [[3.12,0],[3.20,1.0],[3.29,1.6],[3.39,2.3],[3.49,2.6],[3.58,3.0],[3.68,2.3],[3.78,2.6],[3.88,3.0],[3.97,3.3],[4.07,3.9],[4.14,4.9],[4.20,4.3],[4.27,5.6],[4.33,4.6],[4.36,3.0],[4.43,4.3],[4.49,5.2],[4.56,5.6],[4.62,7.2],[4.69,6.9],[4.75,7.9],[4.82,6.2],[4.88,7.2],[4.95,5.9],[5.00,6.9]];
const ads50_vb = [[-2.00,5.6],[-1.90,5.4],[-1.84,5.1],[-1.77,5.4],[-1.71,6.8],[-1.68,8.1],[-1.64,10.1],[-1.61,12.1],[-1.59,13.7],[-1.58,12.1],[-1.56,8.8],[-1.53,5.4],[-1.48,4.8],[-1.42,4.8],[-1.32,4.8],[-1.25,4.1],[-1.22,3.1],[-1.19,3.4],[-1.16,4.1],[-1.12,3.8],[-1.06,4.4],[-1.03,3.8],[-0.96,2.8],[-0.90,2.8],[-0.86,1.8],[-0.83,0.9],[-0.77,0.7],[-0.67,0.5],[-0.54,0.4],[-0.41,0.8],[-0.38,1.1],[-0.34,0.7],[-0.28,0.3],[-0.15,0.1],[0.06,0]];
const ads50_cb = [[3.35,0],[4.00,0.1],[4.50,0.2],[4.90,0.3],[5.00,0.9]];

// ---- assemble per-panel tables ----
const vbmSets = [vbm00, vbm25, vbm50];
const gapSets = [gap00, gap25, gap50];
const vbSets = [
  [vb00_1, vb00_2, vb00_3, vb00_4, vb00_5, vb00_6, vb00_7],
  [vb25_1, vb25_2, vb25_3, vb25_4, vb25_5, vb25_6, vb25_7],
  [vb50_1, vb50_2, vb50_3, vb50_4, vb50_5, vb50_6, vb50_7]
];
const cbSets = [
  [cb00_1, cb00_2, cb00_3, cb00_4, cb00_5, cb00_6, cb00_7],
  [cb25_1, cb25_2, cb25_3, cb25_4, cb25_5, cb25_6, cb25_7],
  [cb50_1, cb50_2, cb50_3, cb50_4, cb50_5, cb50_6, cb50_7]
];
const adsSets = [null, [ads25_vb, ads25_cb], [ads50_vb, ads50_cb]];

// ---- layout & style ----
const FRAME_LEFT = [87.3, 485.3, 882.3];
const FRAME_W = 360;
const FRAME_TOP = 51.7;
const ROW_H = 127.14;
const SERIF = '"DejaVu Serif", "Liberation Serif", serif';
const TICK_H = 3.5;     // height of band-edge markers (data units)
const ARROW_Y = 1.8;    // height of gap arrow
const LABEL_Y = 5.1;    // centre of gap label

const BLUE = { line: '#0000ff', dark: 'rgba(0,0,255,0.72)', light: 'rgba(0,0,255,0.3)' };
const GREEN = { line: '#008000', dark: 'rgba(0,128,0,0.7)', light: 'rgba(0,128,0,0.3)' };
const ORANGE = { line: '#cc6600', dark: 'rgba(204,102,0,0.7)', light: 'rgba(204,102,0,0.3)' };

function fmtX(v) {
  if (Math.abs(v - Math.round(v)) > 1e-6) return '';
  const n = Math.round(v);
  return n < 0 ? '\u2212' + (-n) : String(n);
}

function areaSeries(i, data, color, fill, width, z) {
  return {
    type: 'line', xAxisIndex: i, yAxisIndex: i, data: data,
    showSymbol: false, symbol: 'none', clip: true, silent: true, z: z,
    lineStyle: { color: color, width: width },
    areaStyle: { color: fill, opacity: 1 }
  };
}

function makeAnnotation(c, r) {
  const v = vbmSets[c][r];
  const g = gapSets[c][r];
  const cbm = v + g;
  const vPrev = r > 0 ? vbmSets[c][r - 1] : null;
  const cPrev = r > 0 ? vbmSets[c][r - 1] + gapSets[c][r - 1] : null;
  return function (params, api) {
    const P = (x, y) => api.coord([x, y]);
    const solid = { stroke: '#000', lineWidth: 1.5, fill: null };
    const dashed = { stroke: '#000', lineWidth: 1.5, fill: null, lineDash: [6, 3.5] };
    const kids = [];
    const v0 = P(v, 0), v1 = P(v, TICK_H), c0 = P(cbm, 0), c1 = P(cbm, TICK_H);
    kids.push({ type: 'line', shape: { x1: v0[0], y1: v0[1], x2: v1[0], y2: v1[1] }, style: solid });
    kids.push({ type: 'line', shape: { x1: c0[0], y1: c0[1], x2: c1[0], y2: c1[1] }, style: solid });
    const a0 = P(v, ARROW_Y), a1 = P(cbm, ARROW_Y);
    const xl = a0[0] + 4, xr = a1[0] - 4, ya = a0[1];
    kids.push({ type: 'line', shape: { x1: xl, y1: ya, x2: xr, y2: ya }, style: solid });
    kids.push({ type: 'polyline', shape: { points: [[xl + 9, ya - 4.5], [xl, ya], [xl + 9, ya + 4.5]] }, style: solid });
    kids.push({ type: 'polyline', shape: { points: [[xr - 9, ya - 4.5], [xr, ya], [xr - 9, ya + 4.5]] }, style: solid });
    const t = P((v + cbm) / 2, LABEL_Y);
    kids.push({ type: 'text', style: { text: g.toFixed(2), x: t[0], y: t[1], font: '24px ' + SERIF, fill: '#1a1a1a', align: 'center', verticalAlign: 'middle' } });
    const tl = P(-2, 25);
    kids.push({ type: 'text', style: { text: layerLabels[r], x: tl[0] + 5, y: tl[1] + 7, font: '22px ' + SERIF, fill: '#ff0000', align: 'left', verticalAlign: 'top' } });
    if (r > 0) {
      const pv = P(vPrev, 25), pc = P(cPrev, 25);
      kids.push({ type: 'line', shape: { x1: pv[0], y1: pv[1], x2: v1[0], y2: v1[1] }, style: dashed });
      kids.push({ type: 'line', shape: { x1: pc[0], y1: pc[1], x2: c1[0], y2: c1[1] }, style: dashed });
    }
    return { type: 'group', children: kids };
  };
}

const grids = [], xAxes = [], yAxes = [], series = [];
for (let c = 0; c < 3; c++) {
  for (let r = 0; r < 7; r++) {
    const i = c * 7 + r;
    const bottom = r === 6;
    grids.push({
      left: FRAME_LEFT[c], top: FRAME_TOP + r * ROW_H, width: FRAME_W, height: ROW_H,
      show: true, borderColor: '#000', borderWidth: 1.5, backgroundColor: 'rgba(0,0,0,0)',
      containLabel: false, outerBoundsMode: 'none'
    });
    xAxes.push({
      type: 'value', gridIndex: i, min: -2, max: 5, interval: 0.5, position: 'bottom',
      axisLine: { show: false, onZero: false }, splitLine: { show: false },
      axisTick: { show: bottom, length: 5, customValues: xTicks, lineStyle: { color: '#000', width: 1.2 } },
      axisLabel: { show: bottom, customValues: xTickLabels, formatter: fmtX, color: '#000', fontSize: 20, fontFamily: SERIF, margin: 11 }
    });
    yAxes.push({
      type: 'value', gridIndex: i, min: 0, max: 25, interval: 5, position: 'left',
      axisLine: { show: false, onZero: false }, splitLine: { show: false },
      axisTick: { show: true, length: 5, customValues: yTicks, lineStyle: { color: '#000', width: 1.2 } },
      axisLabel: {
        customValues: yTickLabels, color: '#000', fontSize: 20, fontFamily: SERIF, margin: 10,
        formatter: v => (v === 0 || v === 10 || v === 20) ? String(v) : ''
      }
    });
    const pal = r % 2 === 0 ? BLUE : GREEN;
    const lw = r % 2 === 0 ? 1.8 : 1.5;
    const v = vbmSets[c][r];
    const vbData = vbSets[c][r].concat([[v, 0]]);
    series.push(areaSeries(i, vbData, pal.line, pal.dark, lw, 2));
    series.push(areaSeries(i, cbSets[c][r], pal.line, pal.light, lw, 2));
    if (r === 0 && adsSets[c]) {
      series.push(areaSeries(i, adsSets[c][0], ORANGE.line, ORANGE.dark, 1.6, 3));
      series.push(areaSeries(i, adsSets[c][1], ORANGE.line, ORANGE.light, 1.6, 3));
    }
    series.push({
      type: 'custom', xAxisIndex: i, yAxisIndex: i, data: [[0, 0]], z: 10,
      silent: true, clip: false, renderItem: makeAnnotation(c, r)
    });
  }
}

// ---- figure-level text ----
const graphic = [];
thetaLabels.forEach((t, c) => {
  graphic.push({
    type: 'text', x: FRAME_LEFT[c] + FRAME_W / 2, y: 28,
    style: { text: '\u0398 = ' + t, font: '30px ' + SERIF, fill: '#000', align: 'center', verticalAlign: 'middle' }
  });
  const cx = FRAME_LEFT[c] + FRAME_W / 2;
  graphic.push({ type: 'text', x: cx - 22, y: 995,
    style: { text: 'E\u2009\u2212\u2009E', font: '30px ' + SERIF, fill: '#000', align: 'right', verticalAlign: 'middle' } });
  graphic.push({ type: 'text', x: cx - 21, y: 987,
    style: { text: 'bulk', font: '21px ' + SERIF, fill: '#000', align: 'left', verticalAlign: 'middle' } });
  graphic.push({ type: 'text', x: cx - 21, y: 1008,
    style: { text: 'VBM', font: '21px ' + SERIF, fill: '#000', align: 'left', verticalAlign: 'middle' } });
  graphic.push({ type: 'text', x: cx + 43, y: 995,
    style: { text: '(eV)', font: '30px ' + SERIF, fill: '#000', align: 'left', verticalAlign: 'middle' } });
});
graphic.push({
  type: 'text', x: 28, y: 500, rotation: Math.PI / 2,
  style: { text: 'Local density of states (1/eV/layer)', font: '31px ' + SERIF, fill: '#000', align: 'center', verticalAlign: 'middle' }
});

const chart = echarts.init(document.getElementById('chart'), null, { renderer: 'canvas' });
chart.setOption({
  animation: false,
  backgroundColor: '#ffffff',
  grid: grids,
  xAxis: xAxes,
  yAxis: yAxes,
  series: series,
  graphic: graphic
});
</script>
</body>
</html>
